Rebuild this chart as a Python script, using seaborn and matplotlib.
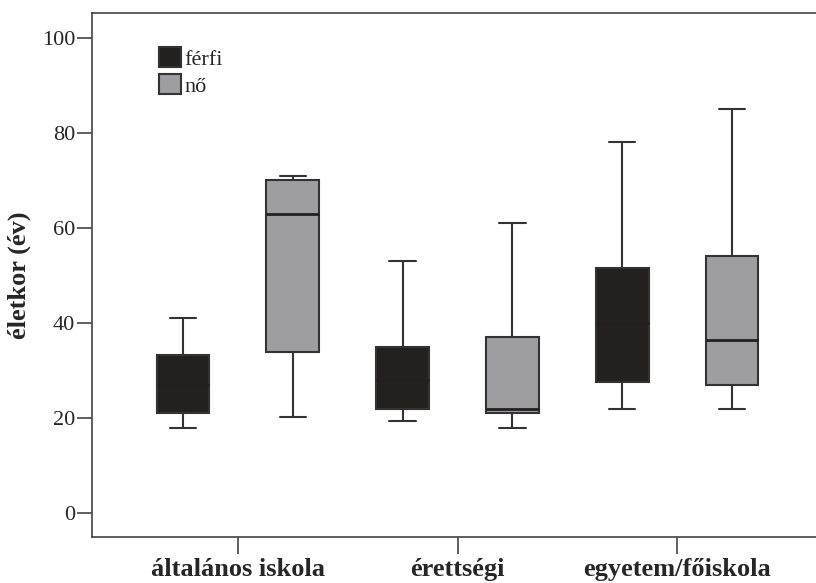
import numpy as np
import pandas as pd
import matplotlib
matplotlib.use("Agg")
import matplotlib.pyplot as plt
import seaborn as sns

# five-number summaries: min, Q1, median, Q3, max
levels = ["általános iskola", "érettségi", "egyetem/főiskola"]
genders = ["férfi", "nő"]
ferfi_alt = [18, 21, 27, 33.3, 41]
no_alt = [20.2, 34, 63, 70, 71]
ferfi_ere = [19.4, 22, 28, 35, 53]
no_ere = [18, 21.0, 22, 37, 61]
ferfi_egy = [22, 27.5, 40, 51.6, 78]
no_egy = [22, 27, 36.5, 54, 85]
colors = ["#231f20", "#9d9ea2"]

rows = []
for lev, f, n in zip(levels, [ferfi_alt, ferfi_ere, ferfi_egy], [no_alt, no_ere, no_egy]):
    for v in f:
        rows.append((lev, "férfi", v))
    for v in n:
        rows.append((lev, "nő", v))
df = pd.DataFrame(rows, columns=["vegzettseg", "nem", "eletkor"])

sns.set_style("white")
plt.rcParams["font.family"] = ["Liberation Serif", "DejaVu Serif"]

fig = plt.figure(figsize=(8.16, 5.83), dpi=100)
ax = fig.add_axes([92/816, 46/583, 731/816, 524/583])

line = dict(color="#333333", linewidth=1.5)
sns.boxplot(data=df, x="vegzettseg", y="eletkor", hue="nem", order=levels, hue_order=genders,
            palette=colors, whis=(0, 100), width=1.0, gap=0.52, linecolor="#333333",
            linewidth=1.5, showfliers=False,
            medianprops=dict(color="#231f20", linewidth=2),
            whiskerprops=line, capprops=line, ax=ax)

ax.set_xlim(-0.664, 2.664)
ax.set_ylim(-5.05, 105.26)
ax.set_yticks([0, 20, 40, 60, 80, 100])
ax.set_xlabel("")
ax.set_ylabel("életkor (év)", fontsize=19, fontweight="bold", labelpad=8)
ax.tick_params(axis="y", labelsize=16, length=11, width=1.2, color="#444444", left=True, pad=1)
ax.tick_params(axis="x", labelsize=19, length=12, width=1.2, color="#444444", bottom=True, pad=3)
for lab in ax.get_xticklabels():
    lab.set_fontweight("bold")
for s in ax.spines.values():
    s.set_color("#444444")
    s.set_linewidth(1.2)

ax.legend(loc="upper left", bbox_to_anchor=(0.079, 0.952), frameon=False, fontsize=16,
          handlelength=1.0, handleheight=1.0, handletextpad=0.15, labelspacing=0.2,
          borderaxespad=0)

fig.savefig("out.png", dpi=100)
